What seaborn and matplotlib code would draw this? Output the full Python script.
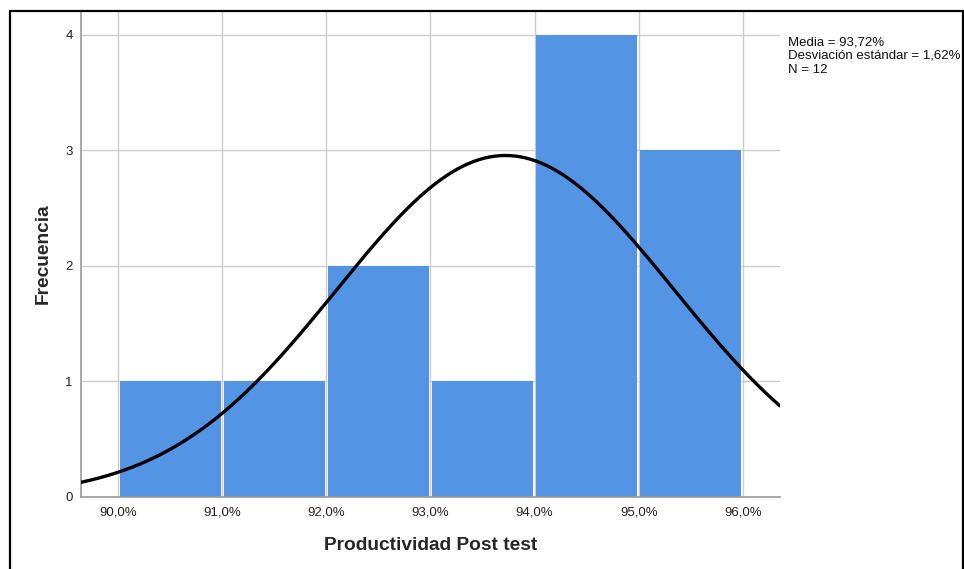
"""
plot.py
Histograma de Productividad Post test con curva normal (estilo SPSS).
"""

import numpy as np
import pandas as pd
import matplotlib
matplotlib.use('Agg')
import matplotlib.pyplot as plt
import seaborn as sns
from matplotlib.lines import Line2D

# datos
bin_edges = [90.0, 91.0, 92.0, 93.0, 94.0, 95.0, 96.0]
counts = [1, 1, 2, 1, 4, 3]
media = 93.72
desv = 1.62
n_total = 12

x_ticks = [90.0, 91.0, 92.0, 93.0, 94.0, 95.0, 96.0]
x_labels = ["90,0%", "91,0%", "92,0%", "93,0%", "94,0%", "95,0%", "96,0%"]
y_ticks = [0, 1, 2, 3, 4]

BAR_COLOR = '#5394e4'
GRID_COLOR = '#cccccc'


def main():
    sns.set_style('white')
    plt.rcParams['font.family'] = ['Liberation Sans', 'DejaVu Sans']

    fig = plt.figure(figsize=(9.64, 5.69), dpi=100)
    ax = fig.add_axes([0.084, 0.127, 0.725, 0.854])

    centers = [(a + b) / 2 for a, b in zip(bin_edges[:-1], bin_edges[1:])]
    df = pd.DataFrame({"valor": centers, "frecuencia": counts})
    sns.histplot(data=df, x="valor", weights="frecuencia", bins=bin_edges,
                 shrink=0.97, color=BAR_COLOR, alpha=1, edgecolor='none',
                 ax=ax, zorder=2)

    # curva normal escalada a la frecuencia (ancho de clase = 1)
    xlim = (89.645, 96.355)
    xs = np.linspace(xlim[0], xlim[1], 400)
    ys = n_total * 1.0 / (desv * np.sqrt(2 * np.pi)) * np.exp(-0.5 * ((xs - media) / desv) ** 2)
    sns.lineplot(x=xs, y=ys, color='black', lw=2.4, ax=ax, zorder=3)

    ax.set_xlim(*xlim)
    ax.set_ylim(0, 4.208)
    ax.set_xticks(x_ticks)
    ax.set_xticklabels(x_labels)
    ax.set_yticks(y_ticks)
    ax.tick_params(axis='x', length=0, pad=7, labelsize=9.5, colors='#222222')
    ax.tick_params(axis='y', length=0, pad=6, labelsize=9.5, colors='#222222')

    ax.grid(True, color=GRID_COLOR, lw=1.0, zorder=0)
    ax.set_axisbelow(True)
    for side in ['top', 'right']:
        ax.spines[side].set_visible(False)
    for side in ['left', 'bottom']:
        ax.spines[side].set_color('#999999')
        ax.spines[side].set_linewidth(1.2)

    ax.set_xlabel('Productividad Post test', fontsize=13.8, fontweight='bold', labelpad=13)
    ax.set_ylabel('Frecuencia', fontsize=13.8, fontweight='bold', labelpad=10)

    ax.text(1.012, 0.948,
            f"Media = {media:.2f}%\nDesviación estándar = {desv:.2f}%\nN = {n_total}".replace('.', ','),
            transform=ax.transAxes, ha='left', va='top', fontsize=9.5,
            linespacing=1.2, color='#111111')

    # marco exterior (izquierda, arriba, derecha)
    W, H = 964, 569
    frame = dict(color='black', lw=1.6, transform=fig.transFigure)
    fig.add_artist(Line2D([9.5 / W, 9.5 / W], [0, 1 - 10.5 / H], **frame))
    fig.add_artist(Line2D([9.5 / W, 962.5 / W], [1 - 10.5 / H, 1 - 10.5 / H], **frame))
    fig.add_artist(Line2D([962.5 / W, 962.5 / W], [0, 1 - 10.5 / H], **frame))

    fig.savefig('out.png', dpi=100)
    plt.close(fig)


if __name__ == "__main__":
    main()
